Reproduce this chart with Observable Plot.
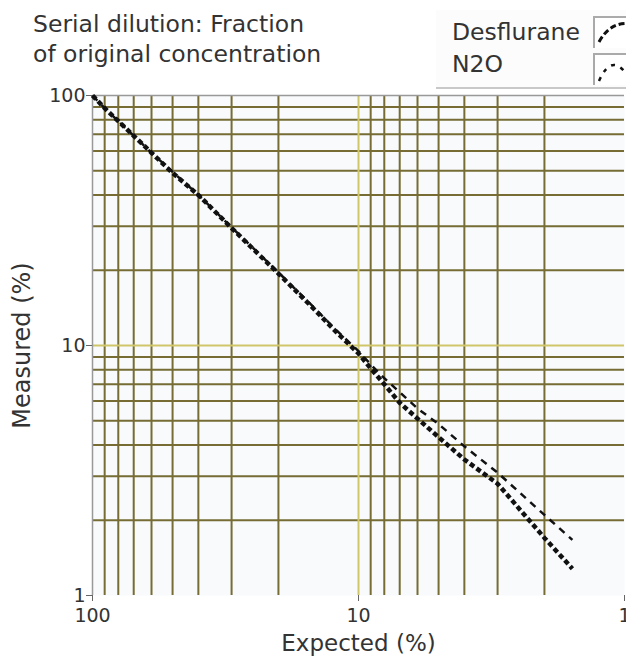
<!DOCTYPE html>
<html>
<head>
<meta charset="utf-8">
<script src="https://cdn.jsdelivr.net/npm/d3@7"></script>
<script src="https://cdn.jsdelivr.net/npm/@observablehq/plot@0.6"></script>
<style>
  html, body { margin: 0; padding: 0; background: #fff; }
  #wrap { position: relative; width: 626px; height: 659px; overflow: hidden; font-family: "DejaVu Sans", sans-serif; color: #333; }
  #title { position: absolute; left: 33px; top: 9px; font-size: 23.5px; line-height: 30px; white-space: nowrap; }
  #legend { position: absolute; left: 436px; top: 10px; width: 200px; height: 77px; background: #fcfcfc; border-bottom: 2px solid #c8c8c8; }
  .lg { position: absolute; left: 16px; font-size: 23.5px; white-space: nowrap; }
  .ic { position: absolute; left: 157px; width: 40px; height: 30px; border-left: 2px solid #aaa; border-top: 2px solid #aaa; background: #fff; }
  #plot { position: absolute; left: 0; top: 0; }
</style>
</head>
<body>
<div id="wrap">
  <div id="plot"></div>
  <div id="title">Serial dilution: Fraction<br>of original concentration</div>
  <div id="legend">
    <div class="lg" style="top:8px">Desflurane</div>
    <div class="ic" style="top:6px"><svg width="40" height="30"><path d="M4,24 Q16,2 38,6" fill="none" stroke="#111" stroke-width="3" stroke-dasharray="6,3"/></svg></div>
    <div class="lg" style="top:40px">N2O</div>
    <div class="ic" style="top:43px"><svg width="40" height="30"><path d="M4,26 Q18,-6 36,26" fill="none" stroke="#111" stroke-width="2.5" stroke-dasharray="4,6"/></svg></div>
  </div>
</div>
<script>
const expected   = [100, 90, 80, 70, 60, 50, 40, 30, 20, 15, 12, 10, 9, 8, 7, 6, 5, 4, 3, 2, 1.57];
const desflurane = [100, 89, 79, 69, 59, 49, 40, 29.5, 19.4, 14.3, 11.2, 9.3, 8.1, 7.0, 5.9, 5.1, 4.3, 3.5, 2.8, 1.7, 1.28];
const n2o        = [100, 89, 79, 69, 59, 49.5, 40, 29.7, 19.6, 14.5, 11.4, 9.5, 8.4, 7.4, 6.5, 5.6, 4.85, 3.95, 3.1, 2.1, 1.67];
const minorGrid  = [90, 80, 70, 60, 50, 40, 30, 20, 9, 8, 7, 6, 5, 4, 3, 2];
const decadeGrid = [10];
const tickValues = [100, 10, 1];

const desData = expected.map((e, i) => ({e, m: desflurane[i]}));
const n2oData = expected.map((e, i) => ({e, m: n2o[i]}));

const olive = "#766c34";
const yellow = "#cfc66a";

const chart = Plot.plot({
  width: 626,
  height: 659,
  marginLeft: 92,
  marginRight: 2,
  marginTop: 95,
  marginBottom: 64,
  style: {fontFamily: "DejaVu Sans, sans-serif", color: "#333", background: "transparent"},
  x: {type: "log", domain: [100, 1]},
  y: {type: "log", domain: [1, 100]},
  marks: [
    Plot.frame({fill: "#f8fafc", stroke: null}),
    Plot.ruleX(minorGrid, {y1: 1, y2: 100, stroke: olive, strokeWidth: 2}),
    Plot.ruleY(minorGrid, {x1: 100, x2: 1, stroke: olive, strokeWidth: 2}),
    Plot.ruleX(decadeGrid, {y1: 1, y2: 100, stroke: yellow, strokeWidth: 2}),
    Plot.ruleY(decadeGrid, {x1: 100, x2: 1, stroke: yellow, strokeWidth: 2}),
    Plot.ruleX([100], {y1: 1, y2: 100, stroke: "#999", strokeWidth: 1.5}),
    Plot.ruleY([100], {x1: 100, x2: 1, stroke: "#999", strokeWidth: 1.5}),
    Plot.line(n2oData, {x: "e", y: "m", stroke: "#111", strokeWidth: 2.5, strokeDasharray: "7,6", strokeLinecap: "butt"}),
    Plot.line(desData, {x: "e", y: "m", stroke: "#111", strokeWidth: 4.5, strokeDasharray: "5,3", strokeLinecap: "butt"}),
    Plot.axisX(tickValues, {tickSize: 6, tickPadding: 7, fontSize: 19, tickFormat: d => String(d), label: null, stroke: "#666"}),
    Plot.axisY(tickValues, {tickSize: 6, tickPadding: 1, fontSize: 19, tickFormat: d => String(d), label: null, stroke: "#666"}),
    Plot.text(["Expected (%)"], {frameAnchor: "bottom", dy: 55, fontSize: 23, fill: "#333"}),
    Plot.text(["Measured (%)"], {frameAnchor: "left", dx: -70, rotate: -90, textAnchor: "middle", fontSize: 24, fill: "#333"})
  ]
});
document.getElementById("plot").appendChild(chart);
</script>
</body>
</html>
